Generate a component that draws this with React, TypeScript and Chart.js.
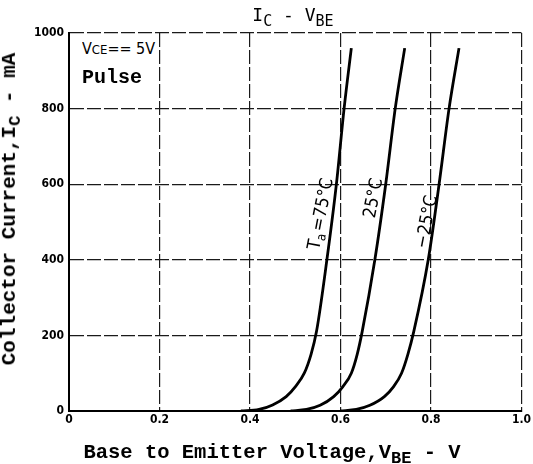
import React, { useEffect, useRef } from "react";
import { Chart, registerables } from "chart.js";

Chart.register(...registerables);

// ---- data ----
const xTicks = [0, 0.2, 0.4, 0.6, 0.8, 1.0];
const xTickLabels = ["0", "0.2", "0.4", "0.6", "0.8", "1.0"];
const yTicks = [0, 200, 400, 600, 800, 1000];
const yTickLabels = ["0", "200", "400", "600", "800", "1000"];

// Ta = 75°C
const vbe75 = [0.38, 0.42, 0.45, 0.48, 0.50, 0.52, 0.535, 0.547, 0.570, 0.591, 0.608, 0.624];
const ic75 = [0, 4, 16, 38, 64, 100, 150, 210, 400, 600, 800, 960];
// Ta = 25°C
const vbe25 = [0.49, 0.525, 0.555, 0.585, 0.605, 0.624, 0.637, 0.648, 0.676, 0.700, 0.721, 0.742];
const ic25 = [0, 4, 15, 38, 64, 100, 150, 210, 400, 600, 800, 960];
// Ta = -25°C
const vbeM25 = [0.60, 0.635, 0.665, 0.697, 0.717, 0.735, 0.749, 0.762, 0.794, 0.818, 0.840, 0.862];
const icM25 = [0, 4, 15, 38, 64, 100, 150, 210, 400, 600, 800, 960];

const curveLabels = ["=75°C", "25°C", "−25°C"];
const curveLabelPrefix = ["T", "", ""];
const curveLabelSub = ["a", "", ""];
const labelV = [0.558, 0.674, 0.792];
const labelI = [521, 563, 500];

const toPoints = (xs: number[], ys: number[]) => xs.map((x, i) => ({ x, y: ys[i] }));

const curveLabelPlugin = {
  id: "curveLabels",
  afterDatasetsDraw(chart: any) {
    const { ctx, scales } = chart;
    ctx.save();
    ctx.fillStyle = "#000";
    ctx.textBaseline = "middle";
    for (let i = 0; i < curveLabels.length; i++) {
      const px = scales.x.getPixelForValue(labelV[i]);
      const py = scales.y.getPixelForValue(labelI[i]);
      ctx.save();
      ctx.translate(px, py);
      ctx.rotate((-79 * Math.PI) / 180);
      const big = "18px 'DejaVu Sans Condensed', 'DejaVu Sans', sans-serif";
      const small = "13px 'DejaVu Sans Condensed', 'DejaVu Sans', sans-serif";
      ctx.font = big;
      const wPre = ctx.measureText(curveLabelPrefix[i]).width;
      const wMain = ctx.measureText(curveLabels[i]).width;
      ctx.font = small;
      const wSub = ctx.measureText(curveLabelSub[i]).width;
      const total = wPre + wSub + wMain + (curveLabelSub[i] ? 2 : 0);
      let cx = -total / 2;
      ctx.textAlign = "left";
      ctx.font = big;
      ctx.fillText(curveLabelPrefix[i], cx, 0);
      cx += wPre;
      ctx.font = small;
      ctx.fillText(curveLabelSub[i], cx, 5);
      cx += wSub + (curveLabelSub[i] ? 2 : 0);
      ctx.font = big;
      ctx.fillText(curveLabels[i], cx, 0);
      ctx.restore();
    }
    ctx.restore();
  },
};

export default function App() {
  const canvasRef = useRef<HTMLCanvasElement | null>(null);

  useEffect(() => {
    if (!canvasRef.current) return;
    const lineDs = (label: string, xs: number[], ys: number[]) => ({
      label,
      data: toPoints(xs, ys),
      borderColor: "#000",
      borderWidth: 2.8,
      pointRadius: 0,
      fill: false,
      cubicInterpolationMode: "monotone" as const,
    });
    const tickFont = { family: "'DejaVu Sans Condensed', 'DejaVu Sans', sans-serif", size: 12, weight: "bold" as const };
    const chart = new Chart(canvasRef.current, {
      type: "line",
      data: {
        datasets: [
          lineDs("Ta=75°C", vbe75, ic75),
          lineDs("25°C", vbe25, ic25),
          lineDs("-25°C", vbeM25, icM25),
        ],
      },
      options: {
        animation: false,
        responsive: true,
        maintainAspectRatio: false,
        layout: { padding: { left: 0, right: 7, top: 33, bottom: 0 }, autoPadding: false },
        plugins: { legend: { display: false }, tooltip: { enabled: false }, title: { display: false } },
        scales: {
          x: {
            type: "linear",
            min: 0,
            max: 1,
            afterBuildTicks: (s: any) => {
              s.ticks = xTicks.map((v) => ({ value: v }));
            },
            afterFit: (s: any) => {
              s.height = 53;
            },
            ticks: {
              color: "#000",
              font: tickFont,
              padding: 2,
              maxRotation: 0,
              callback: (_v: any, i: number) => xTickLabels[i],
            },
            grid: { color: "#1a1a1a", lineWidth: 1.2, drawTicks: false },
            border: { color: "#000", width: 2, dash: [14, 3] },
          },
          y: {
            type: "linear",
            min: 0,
            max: 1000,
            afterBuildTicks: (s: any) => {
              s.ticks = yTicks.map((v) => ({ value: v }));
            },
            afterFit: (s: any) => {
              s.width = 69;
            },
            ticks: {
              color: "#000",
              font: tickFont,
              padding: 5,
              callback: (_v: any, i: number) => yTickLabels[i],
            },
            grid: { color: "#1a1a1a", lineWidth: 1.2, drawTicks: false },
            border: { color: "#000", width: 2, dash: [14, 3] },
          },
        },
      },
      plugins: [curveLabelPlugin],
    });
    return () => chart.destroy();
  }, []);

  const mono = "'Liberation Mono', 'DejaVu Sans Mono', monospace";
  return (
    <div style={{ position: "absolute", left: 0, top: 0, width: 533, height: 464, background: "#fff", overflow: "hidden" }}>
      <canvas ref={canvasRef} style={{ position: "absolute", left: 0, top: 0, width: 533, height: 464 }} />
      <div
        style={{
          position: "absolute",
          left: 293,
          top: 5,
          transform: "translateX(-50%)",
          fontFamily: "'DejaVu Sans Mono', monospace",
          fontSize: 18,
          whiteSpace: "nowrap",
          lineHeight: "20px",
        }}
      >
        I<sub style={{ fontSize: 15 }}>C</sub> - V<sub style={{ fontSize: 15 }}>BE</sub>
      </div>
      <div
        style={{
          position: "absolute",
          left: 272,
          top: 442,
          transform: "translateX(-50%)",
          fontFamily: mono,
          fontWeight: "bold",
          fontSize: 20.5,
          whiteSpace: "nowrap",
          lineHeight: "22px",
        }}
      >
        Base to Emitter Voltage,V<sub style={{ fontSize: 17 }}>BE</sub> - V
      </div>
      <div
        style={{
          position: "absolute",
          left: 13,
          top: 209,
          transform: "translate(-50%, -50%) rotate(-90deg)",
          fontFamily: mono,
          fontWeight: "bold",
          fontSize: 21,
          whiteSpace: "nowrap",
          lineHeight: "22px",
        }}
      >
        Collector Current,I<sub style={{ fontSize: 17 }}>C</sub> - mA
      </div>
      <div
        style={{
          position: "absolute",
          left: 82,
          top: 39,
          fontFamily: "'DejaVu Sans Condensed', 'DejaVu Sans', sans-serif",
          fontSize: 16,
          whiteSpace: "nowrap",
          lineHeight: "19px",
          background: "#fff",
          paddingRight: 2,
        }}
      >
        V<span style={{ fontSize: 13 }}>CE</span>== 5V
      </div>
      <div
        style={{
          position: "absolute",
          left: 82,
          top: 67,
          fontFamily: mono,
          fontWeight: "bold",
          fontSize: 20,
          whiteSpace: "nowrap",
          lineHeight: "22px",
        }}
      >
        Pulse
      </div>
    </div>
  );
}
